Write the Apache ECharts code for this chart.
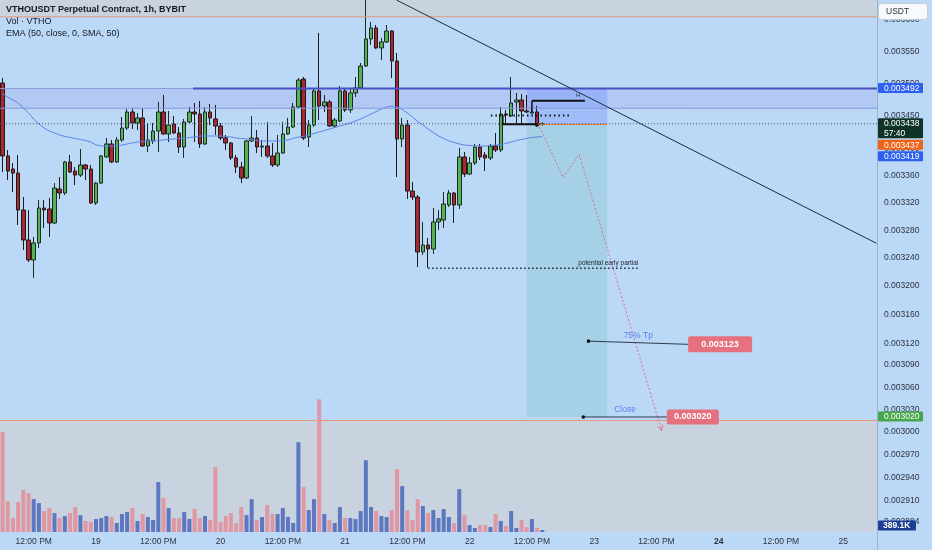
<!DOCTYPE html>
<html>
<head>
<meta charset="utf-8">
<script src="https://cdn.jsdelivr.net/npm/echarts@6/dist/echarts.min.js"></script>
<style>
  html, body { margin: 0; padding: 0; background: #bbd8f6; }
  #chart { width: 932px; height: 550px; }
</style>
</head>
<body>
<div id="chart"></div>
<script>
// VTHOUSDT perpetual, 1h candles. Slot k is hour (firstHour + k) counted from the 18th 00:00.
const firstHour = 6;
const slotCount = 169;

const opens = [
  0.0035005, 0.0033894, 0.0033699, 0.0033639, 0.0033094, 0.0032658, 0.0032371, 0.0032615, 0.0033123, 0.0033109,
  0.0032904, 0.0033402, 0.0033343, 0.0033804, 0.0033669, 0.0033609, 0.0033759, 0.0033699, 0.0033196, 0.0033490,
  0.0033879, 0.0034074, 0.0033804, 0.0034134, 0.0034315, 0.0034559, 0.0034391, 0.0034468, 0.0034043, 0.0034119,
  0.0034270, 0.0034559, 0.0034225, 0.0034376, 0.0034240, 0.0034028, 0.0034407, 0.0034559, 0.0034529, 0.0034074,
  0.0034559, 0.0034453, 0.0034346, 0.0034164, 0.0034089, 0.0033864, 0.0033729, 0.0033565, 0.0034119, 0.0034164,
  0.0034028, 0.0034043, 0.0033894, 0.0033759, 0.0033938, 0.0034225, 0.0034330, 0.0034636, 0.0035066, 0.0034179,
  0.0034361, 0.0034882, 0.0034651, 0.0034712, 0.0034346, 0.0034422, 0.0034882, 0.0034590, 0.0034851, 0.0034928,
  0.0035269, 0.0035693, 0.0035867, 0.0035551, 0.0035646, 0.0035819, 0.0035347, 0.0034149, 0.0034361, 0.0033372,
  0.0033284, 0.0032485, 0.0032586, 0.0032528, 0.0032919, 0.0032948, 0.0033167, 0.0033343, 0.0033167, 0.0033879,
  0.0033624, 0.0033789, 0.0034028, 0.0033908, 0.0033864, 0.0034043, 0.0033983, 0.0034529, 0.0034498, 0.0034712,
  0.0034743, 0.0034575, 0.0034544, 0.0034559, 0.0034370
];
const closes = [
  0.0033894, 0.0033669, 0.0033639, 0.0033094, 0.0032658, 0.0032371, 0.0032615, 0.0033123, 0.0033094, 0.0032904,
  0.0033417, 0.0033343, 0.0033804, 0.0033654, 0.0033609, 0.0033759, 0.0033699, 0.0033196, 0.0033490, 0.0033894,
  0.0034074, 0.0033804, 0.0034134, 0.0034315, 0.0034559, 0.0034391, 0.0034468, 0.0034043, 0.0034134, 0.0034270,
  0.0034559, 0.0034225, 0.0034361, 0.0034240, 0.0034028, 0.0034407, 0.0034559, 0.0034529, 0.0034074, 0.0034559,
  0.0034468, 0.0034346, 0.0034164, 0.0034089, 0.0033864, 0.0033729, 0.0033565, 0.0034119, 0.0034164, 0.0034028,
  0.0034043, 0.0033894, 0.0033759, 0.0033938, 0.0034225, 0.0034330, 0.0034636, 0.0035051, 0.0034164, 0.0034361,
  0.0034882, 0.0034651, 0.0034712, 0.0034346, 0.0034437, 0.0034882, 0.0034590, 0.0034851, 0.0034928, 0.0035269,
  0.0035693, 0.0035867, 0.0035551, 0.0035646, 0.0035819, 0.0035347, 0.0034149, 0.0034361, 0.0033372, 0.0033284,
  0.0032485, 0.0032586, 0.0032528, 0.0032919, 0.0032963, 0.0033182, 0.0033343, 0.0033167, 0.0033879, 0.0033624,
  0.0033789, 0.0034028, 0.0033879, 0.0033864, 0.0034043, 0.0033983, 0.0034529, 0.0034513, 0.0034697, 0.0034743,
  0.0034575, 0.0034559, 0.0034559, 0.0034346, 0.0034380
];
const lows = [
  0.0033654, 0.0033535, 0.0033358, 0.0032875, 0.0032514, 0.0032342, 0.0032114, 0.0032543, 0.0032832, 0.0032701,
  0.0032889, 0.0033255, 0.0033313, 0.0033639, 0.0033461, 0.0033580, 0.0033535, 0.0033182, 0.0033167, 0.0033476,
  0.0033864, 0.0033789, 0.0033789, 0.0034104, 0.0034285, 0.0034300, 0.0034285, 0.0034028, 0.0033953, 0.0034074,
  0.0033953, 0.0034210, 0.0034104, 0.0034225, 0.0033938, 0.0033864, 0.0034391, 0.0034104, 0.0034013, 0.0034058,
  0.0034361, 0.0034210, 0.0034134, 0.0033983, 0.0033834, 0.0033639, 0.0033490, 0.0033550, 0.0034104, 0.0033938,
  0.0033879, 0.0033864, 0.0033729, 0.0033729, 0.0033923, 0.0034210, 0.0034315, 0.0034621, 0.0034134, 0.0034028,
  0.0034330, 0.0034437, 0.0034559, 0.0034330, 0.0034315, 0.0034407, 0.0034559, 0.0034544, 0.0034789, 0.0034913,
  0.0035254, 0.0035599, 0.0035536, 0.0035363, 0.0035630, 0.0035082, 0.0033580, 0.0034028, 0.0033255, 0.0033240,
  0.0032271, 0.0032442, 0.0032257, 0.0032457, 0.0032803, 0.0032832, 0.0033138, 0.0032904, 0.0033109, 0.0033580,
  0.0033609, 0.0033759, 0.0033834, 0.0033669, 0.0033834, 0.0033953, 0.0033953, 0.0034361, 0.0034483, 0.0034391,
  0.0034376, 0.0034544, 0.0034529, 0.0034330, 0.0034350
];
const highs = [
  0.0035082, 0.0033983, 0.0033789, 0.0033908, 0.0033284, 0.0033094, 0.0032702, 0.0033240, 0.0033240, 0.0033269,
  0.0033490, 0.0033580, 0.0033819, 0.0033908, 0.0033729, 0.0033998, 0.0033774, 0.0033759, 0.0033505, 0.0033908,
  0.0034164, 0.0034134, 0.0034179, 0.0034483, 0.0034605, 0.0034621, 0.0034544, 0.0034621, 0.0034391, 0.0034391,
  0.0034712, 0.0034820, 0.0034575, 0.0034498, 0.0034330, 0.0034453, 0.0034636, 0.0034697, 0.0034728, 0.0034636,
  0.0034682, 0.0034667, 0.0034391, 0.0034210, 0.0034104, 0.0033908, 0.0033804, 0.0034134, 0.0034498, 0.0034285,
  0.0034134, 0.0034407, 0.0034089, 0.0034210, 0.0034407, 0.0034468, 0.0034697, 0.0035082, 0.0035098, 0.0034437,
  0.0034913, 0.0035788, 0.0034820, 0.0034743, 0.0034468, 0.0034959, 0.0034928, 0.0034913, 0.0035098, 0.0035316,
  0.0036450, 0.0035962, 0.0035914, 0.0035709, 0.0035914, 0.0035835, 0.0035473, 0.0034468, 0.0034437, 0.0033505,
  0.0033313, 0.0032919, 0.0032687, 0.0033123, 0.0033094, 0.0033358, 0.0033387, 0.0033358, 0.0034013, 0.0033953,
  0.0033879, 0.0034074, 0.0034074, 0.0033953, 0.0034074, 0.0034240, 0.0034636, 0.0034590, 0.0035098, 0.0034851,
  0.0034835, 0.0034820, 0.0034636, 0.0034651, 0.0034400
];
// volume, thousands of VTHO
const volumes = [
  19500, 6050, 2730, 5850, 8190, 7600, 6430, 5650, 4100, 4680,
  3700, 2730, 3120, 3700, 4880, 3300, 2150, 1950, 2540, 2730,
  3120, 2930, 1760, 3510, 3900, 4680, 2150, 3510, 2930, 2340,
  9750, 6630, 4680, 2730, 2730, 3900, 2540, 4490, 2730, 3120,
  2340, 12680, 1950, 3120, 3700, 1760, 4880, 3300, 6430, 2340,
  2930, 5270, 3510, 3510, 4680, 2930, 1760, 17550, 8780, 4290,
  6430, 25940, 3510, 2340, 1760, 4880, 2730, 2730, 2540, 4100,
  14040, 4880, 4100, 3120, 2930, 4290, 12290, 8970, 4290, 2340,
  6430, 5070, 3700, 4290, 2730, 4490, 2930, 1760, 8390, 3300,
  1370, 780, 1370, 1370, 980, 3510, 2150, 1170, 4100, 780,
  2340, 980, 2540, 780, 389.1
];
// EMA(50) with SMA(50) smoothing
const ema50 = [
  0.0034835, 0.0034789, 0.0034743, 0.0034697, 0.0034621, 0.0034544, 0.0034452, 0.0034376, 0.0034315, 0.0034270,
  0.0034240, 0.0034210, 0.0034187, 0.0034172, 0.0034157, 0.0034142, 0.0034126, 0.0034104, 0.0034058, 0.0034043,
  0.0034043, 0.0034043, 0.0034043, 0.0034058, 0.0034074, 0.0034089, 0.0034104, 0.0034111, 0.0034119, 0.0034119,
  0.0034126, 0.0034134, 0.0034142, 0.0034149, 0.0034157, 0.0034164, 0.0034172, 0.0034179, 0.0034194, 0.0034194,
  0.0034194, 0.0034194, 0.0034194, 0.0034187, 0.0034179, 0.0034164, 0.0034157, 0.0034149, 0.0034142, 0.0034126,
  0.0034119, 0.0034119, 0.0034119, 0.0034119, 0.0034119, 0.0034134, 0.0034157, 0.0034179, 0.0034187, 0.0034210,
  0.0034232, 0.0034255, 0.0034277, 0.0034300, 0.0034323, 0.0034346, 0.0034369, 0.0034391, 0.0034422, 0.0034452,
  0.0034490, 0.0034529, 0.0034567, 0.0034605, 0.0034636, 0.0034651, 0.0034636, 0.0034598, 0.0034544, 0.0034483,
  0.0034414, 0.0034361, 0.0034300, 0.0034247, 0.0034194, 0.0034157, 0.0034119, 0.0034096, 0.0034074, 0.0034058,
  0.0034051, 0.0034043, 0.0034043, 0.0034043, 0.0034051, 0.0034058, 0.0034066, 0.0034081, 0.0034104, 0.0034126,
  0.0034142, 0.0034157, 0.0034172, 0.0034179, 0.0034187
];

const priceTicks = [0.0036, 0.00355, 0.0035, 0.00345, 0.0034, 0.00336, 0.00332, 0.00328, 0.00324, 0.0032,
  0.00316, 0.00312, 0.00309, 0.00306, 0.00303, 0.003, 0.00297, 0.00294, 0.00291, 0.002884];
const timeTicks = { 12: '12:00 PM', 24: '19', 36: '12:00 PM', 48: '20', 60: '12:00 PM', 72: '21', 84: '12:00 PM',
  96: '22', 108: '12:00 PM', 120: '23', 132: '12:00 PM', 144: '24', 156: '12:00 PM', 168: '25' };
const countdown = '57:40';

// Drawn levels and tools (slot index, price)
const priceMin = 0.0028703, priceMax = 0.0036313;
const bandTop = 0.0036044, bandBottom = 0.0030153;
const zoneHigh = 0.003492, zoneLow = 0.0034616, zoneLineStart = 36.7;
const shortStart = 101.0, shortEnd = 116.5, entryLineStart = 103.2;
const entryPrice = 0.003437, stopPrice = 0.003492, targetPrice = 0.003020;
const trendFrom = [75.9, 0.0036313], trendTo = [168.4, 0.003261];
const projection = [[103.2, 0.0034387], [108.0, 0.0033575], [111.1, 0.0033919], [127.0, 0.0030018]];
const swingHigh = { from: 102.0, to: 112.2, price: 0.0034732, tickTo: 0.0034559 };
const swingLow = { from: 96.4, to: 103.5, price: 0.0034372, tickFrom: 0.0034514 };
const dottedLevel = { from: 94.1, to: 109.7, price: 0.0034506 };
const partialLevel = { from: 82.0, to: 122.5, price: 0.0032252, text: 'potential early partial' };
const tpLevel = { from: 112.9, to: 132.1, price: 0.003123, endPrice: 0.0031186, text: '75% Tp' };
const closeLevel = { from: 111.9, to: 128.0, price: 0.003020, text: 'Close' };
const highMark = { slot: 110.9, price: 0.003482, text: 'H' };

const FONT = '"Liberation Sans", Arial, sans-serif';
const lastPrice = closes[closes.length - 1];
const fmt = p => p.toFixed(6);

const slots = Array.from({ length: slotCount }, (_, k) => String(firstHour + k));
const candleData = opens.map((o, i) => [o, closes[i], lows[i], highs[i]]);
const volUp = 'rgba(58,88,182,0.75)', volDown = 'rgba(238,112,124,0.6)';
const volumeData = volumes.map((v, i) => ({
  value: v, itemStyle: { color: closes[i] >= opens[i] ? volUp : volDown }
}));

function textEl(x, y, text, fill, font, align) {
  return { type: 'text', style: { text, x, y, fill, font, align: align || 'left', verticalAlign: 'middle',
    textAlign: align || 'left', textVerticalAlign: 'middle' } };
}
function lineEl(a, b, stroke, lineWidth, lineDash) {
  return { type: 'line', shape: { x1: a[0], y1: a[1], x2: b[0], y2: b[1] },
    style: { stroke, lineWidth, lineDash: lineDash || null, fill: null } };
}
function rectEl(x1, y1, x2, y2, fill, r) {
  return { type: 'rect', shape: { x: Math.min(x1, x2), y: Math.min(y1, y2), width: Math.abs(x2 - x1),
    height: Math.abs(y2 - y1), r: r || 0 }, style: { fill } };
}

function drawZones(params, api) {
  const cs = params.coordSys;
  const L = cs.x, R = cs.x + cs.width, T = cs.y, B = cs.y + cs.height;
  const Y = p => api.coord([0, p])[1];
  const X = s => api.coord([s, zoneLow])[0];
  return { type: 'group', children: [
    rectEl(L, T, R, Y(bandTop), '#c8d3df'),
    rectEl(L, Y(bandBottom), R, B, '#c8d3df'),
    rectEl(L, Y(zoneHigh), R, Y(zoneLow), 'rgba(118,104,222,0.13)'),
    rectEl(X(shortStart), Y(stopPrice), X(shortEnd), Y(entryPrice), 'rgba(96,128,255,0.30)'),
    rectEl(X(shortStart), Y(entryPrice), X(shortEnd), Y(targetPrice), 'rgba(120,190,190,0.30)')
  ] };
}

function drawAnnotations(params, api) {
  const cs = params.coordSys;
  const L = cs.x, R = cs.x + cs.width;
  const P = (s, p) => api.coord([s, p]);
  const Y = p => api.coord([0, p])[1];
  const k = [];
  // zone edges and the band limits
  k.push(lineEl([L, Y(zoneHigh)], [R, Y(zoneHigh)], '#8e98d8', 1));
  k.push(lineEl([L, Y(zoneLow)], [R, Y(zoneLow)], '#8e98d8', 1));
  k.push(lineEl([P(zoneLineStart, zoneHigh)[0], Y(zoneHigh)], [R, Y(zoneHigh)], '#4b50c6', 2));
  k.push(lineEl([L, Y(bandTop)], [R, Y(bandTop)], '#e39a7e', 1));
  k.push(lineEl([L, Y(bandBottom)], [R, Y(bandBottom)], '#e39a7e', 1));
  // last price line and short entry
  k.push(lineEl([L, Y(lastPrice)], [R, Y(lastPrice)], '#475669', 1, [1, 2]));
  k.push(lineEl(P(entryLineStart, entryPrice), P(shortEnd, entryPrice), '#e8742c', 1));
  // descending trend line
  k.push(lineEl(P(trendFrom[0], trendFrom[1]), P(trendTo[0], trendTo[1]), '#1f2b3d', 1));
  // structure lines
  k.push(lineEl(P(swingHigh.from, swingHigh.price), P(swingHigh.to, swingHigh.price), '#111111', 2));
  k.push(lineEl(P(swingHigh.from, swingHigh.price), P(swingHigh.from, swingHigh.tickTo), '#111111', 1.5));
  k.push(lineEl(P(swingLow.from, swingLow.price), P(swingLow.to, swingLow.price), '#111111', 2));
  k.push(lineEl(P(swingLow.from, swingLow.tickFrom), P(swingLow.from, swingLow.price), '#111111', 1.5));
  k.push(lineEl(P(dottedLevel.from, dottedLevel.price), P(dottedLevel.to, dottedLevel.price), '#111111', 2, [1.5, 3]));
  const hm = P(highMark.slot, highMark.price);
  k.push(textEl(hm[0], hm[1], highMark.text, '#2a3444', '6px ' + FONT, 'center'));
  // projected path with arrow head
  const pts = projection.map(q => P(q[0], q[1]));
  for (let i = 0; i < pts.length - 1; i++) {
    k.push(lineEl(pts[i], pts[i + 1], 'rgba(228,84,124,0.8)', 1, [2, 2]));
  }
  const a = pts[pts.length - 2], b = pts[pts.length - 1];
  const ang = Math.atan2(b[1] - a[1], b[0] - a[0]);
  [0.45, -0.45].forEach(d => {
    k.push(lineEl(b, [b[0] - 6 * Math.cos(ang + d), b[1] - 6 * Math.sin(ang + d)], 'rgba(228,84,124,0.8)', 1));
  });
  // potential early partial
  const pa = P(partialLevel.from, partialLevel.price), pb = P(partialLevel.to, partialLevel.price);
  k.push(lineEl(pa, pb, '#1c2431', 1.5, [1.5, 2.5]));
  k.push(textEl(pb[0], pb[1] - 5.5, partialLevel.text, '#1c2431', '6.5px ' + FONT, 'right'));
  // 75% take profit
  const ta = P(tpLevel.from, tpLevel.price), tb = P(tpLevel.to, tpLevel.endPrice);
  k.push(lineEl(ta, tb, '#2f3b4c', 1));
  k.push({ type: 'circle', shape: { cx: ta[0], cy: ta[1], r: 1.8 }, style: { fill: '#111111' } });
  k.push(textEl((ta[0] + tb[0]) / 2, ta[1] - 5, tpLevel.text, '#5c7ef2', '8.5px ' + FONT, 'center'));
  k.push(rectEl(tb[0], tb[1] - 8, tb[0] + 64, tb[1] + 8, '#e5717f', 2));
  k.push(textEl(tb[0] + 32, tb[1], fmt(tpLevel.price), '#ffffff', 'bold 9px ' + FONT, 'center'));
  // close target
  const ca = P(closeLevel.from, closeLevel.price), cb = P(closeLevel.to, closeLevel.price);
  k.push(lineEl(ca, cb, '#2f3b4c', 1));
  k.push({ type: 'circle', shape: { cx: ca[0], cy: ca[1], r: 1.8 }, style: { fill: '#111111' } });
  k.push(textEl((ca[0] + cb[0]) / 2, ca[1] - 7, closeLevel.text, '#5c7ef2', '8.5px ' + FONT, 'center'));
  k.push(rectEl(cb[0], cb[1] - 7.5, cb[0] + 52, cb[1] + 7.5, '#e5717f', 2));
  k.push(textEl(cb[0] + 26, cb[1], fmt(closeLevel.price), '#ffffff', 'bold 9px ' + FONT, 'center'));
  return { type: 'group', children: k };
}

function drawPriceScale(params, api) {
  const cs = params.coordSys;
  const R = cs.x + cs.width, B = cs.y + cs.height;
  const Y = p => api.coord([0, p])[1];
  const k = [];
  k.push(lineEl([R + 0.5, 0], [R + 0.5, 550], '#9ab1cc', 1));
  priceTicks.forEach(p => k.push(textEl(R + 7, Y(p), fmt(p), '#2e3340', '8.5px ' + FONT, 'left')));
  const badges = [
    { price: zoneHigh, text: fmt(zoneHigh), bg: '#2d5ff0' },
    { price: lastPrice, text: fmt(lastPrice), sub: countdown, bg: '#0e3428' },
    { price: entryPrice, text: fmt(entryPrice), bg: '#ef6318' },
    { price: ema50[ema50.length - 1], text: fmt(ema50[ema50.length - 1]), bg: '#2d5ff0' },
    { price: targetPrice, text: fmt(targetPrice), bg: '#46a64a' }
  ].map(b => Object.assign(b, { y: Y(b.price) })).sort((m, n) => m.y - n.y);
  let prevBottom = -Infinity;
  badges.forEach(b => {
    const h = b.sub ? 20 : 10;
    let top = b.y - 5.5;
    if (top < prevBottom + 1.5) top = prevBottom + 1.5;
    prevBottom = top + h;
    k.push(rectEl(R + 1, top, R + 46, top + h, b.bg, 1));
    k.push(textEl(R + 7, top + 5.5, b.text, '#ffffff', '8.5px ' + FONT, 'left'));
    if (b.sub) k.push(textEl(R + 7, top + 15, b.sub, '#ffffff', '8.5px ' + FONT, 'left'));
  });
  // volume readout sits at the bottom of the pane
  k.push(rectEl(R + 1, B - 11.5, R + 39, B - 1.5, '#1d3f93', 1));
  k.push(textEl(R + 6, B - 6.5, (volumes[volumes.length - 1]).toFixed(1) + 'K', '#ffffff', 'bold 8.5px ' + FONT, 'left'));
  // currency box
  k.push({ type: 'rect', shape: { x: R + 1.5, y: 3.5, width: 49, height: 16, r: 3 },
    style: { fill: '#f7f9fc', stroke: '#c3cedb', lineWidth: 1 } });
  k.push(textEl(R + 9, 11.5, 'USDT', '#2e3340', '8.5px ' + FONT, 'left'));
  return { type: 'group', children: k };
}

const chart = echarts.init(document.getElementById('chart'), null, { renderer: 'canvas' });
chart.setOption({
  animation: false,
  backgroundColor: '#bbd8f6',
  grid: { left: 0, top: 0, width: 877, height: 532, show: false },
  xAxis: [
    {
      type: 'category', data: slots, boundaryGap: true, gridIndex: 0,
      axisLine: { show: false }, axisTick: { show: false }, splitLine: { show: false },
      axisLabel: {
        margin: 5, fontSize: 8.5, fontFamily: 'Liberation Sans', color: '#2e3340',
        interval: (idx, val) => timeTicks[val] !== undefined,
        formatter: val => val === '144' ? '{b|' + timeTicks[val] + '}' : (timeTicks[val] || ''),
        rich: { b: { fontWeight: 'bold', fontSize: 8.5, fontFamily: 'Liberation Sans', color: '#2e3340' } }
      }
    },
    { type: 'value', min: -0.5, max: slotCount - 0.5, gridIndex: 0, show: false }
  ],
  yAxis: [
    { type: 'log', logBase: 10, min: priceMin, max: priceMax, gridIndex: 0, show: false, splitLine: { show: false } },
    { type: 'value', min: 0, max: 104000, gridIndex: 0, show: false, splitLine: { show: false } }
  ],
  graphic: {
    elements: [
      { type: 'text', left: 6, top: 5, z: 100, style: { text: 'VTHOUSDT Perpetual Contract, 1h, BYBIT', font: 'bold 9px ' + FONT, fill: '#131722' } },
      { type: 'text', left: 6, top: 17, z: 100, style: { text: 'Vol · VTHO', font: '9px ' + FONT, fill: '#131722' } },
      { type: 'text', left: 6, top: 29, z: 100, style: { text: 'EMA (50, close, 0, SMA, 50)', font: '9px ' + FONT, fill: '#131722' } }
    ]
  },
  series: [
    { type: 'custom', name: 'zones', xAxisIndex: 1, yAxisIndex: 0, z: 1, clip: true,
      data: [[0, 0.0032]], renderItem: drawZones, silent: true },
    { type: 'bar', name: 'Volume', xAxisIndex: 0, yAxisIndex: 1, z: 2, barWidth: 4, data: volumeData, silent: true },
    { type: 'candlestick', name: 'VTHOUSDT', xAxisIndex: 0, yAxisIndex: 0, z: 3, barWidth: 4,
      data: candleData,
      itemStyle: { color: '#55b255', color0: '#a8282f', borderColor: '#1b2a22', borderColor0: '#1f1a1c', borderWidth: 1 } },
    { type: 'line', name: 'EMA', xAxisIndex: 0, yAxisIndex: 0, z: 4, data: ema50, symbol: 'none',
      lineStyle: { color: '#5a85e6', width: 1 }, silent: true },
    { type: 'custom', name: 'drawings', xAxisIndex: 1, yAxisIndex: 0, z: 5, clip: true,
      data: [[0, 0.0032]], renderItem: drawAnnotations, silent: true },
    { type: 'custom', name: 'scale', xAxisIndex: 1, yAxisIndex: 0, z: 6, clip: false,
      data: [[0, 0.0032]], renderItem: drawPriceScale, silent: true }
  ]
});
</script>
</body>
</html>
